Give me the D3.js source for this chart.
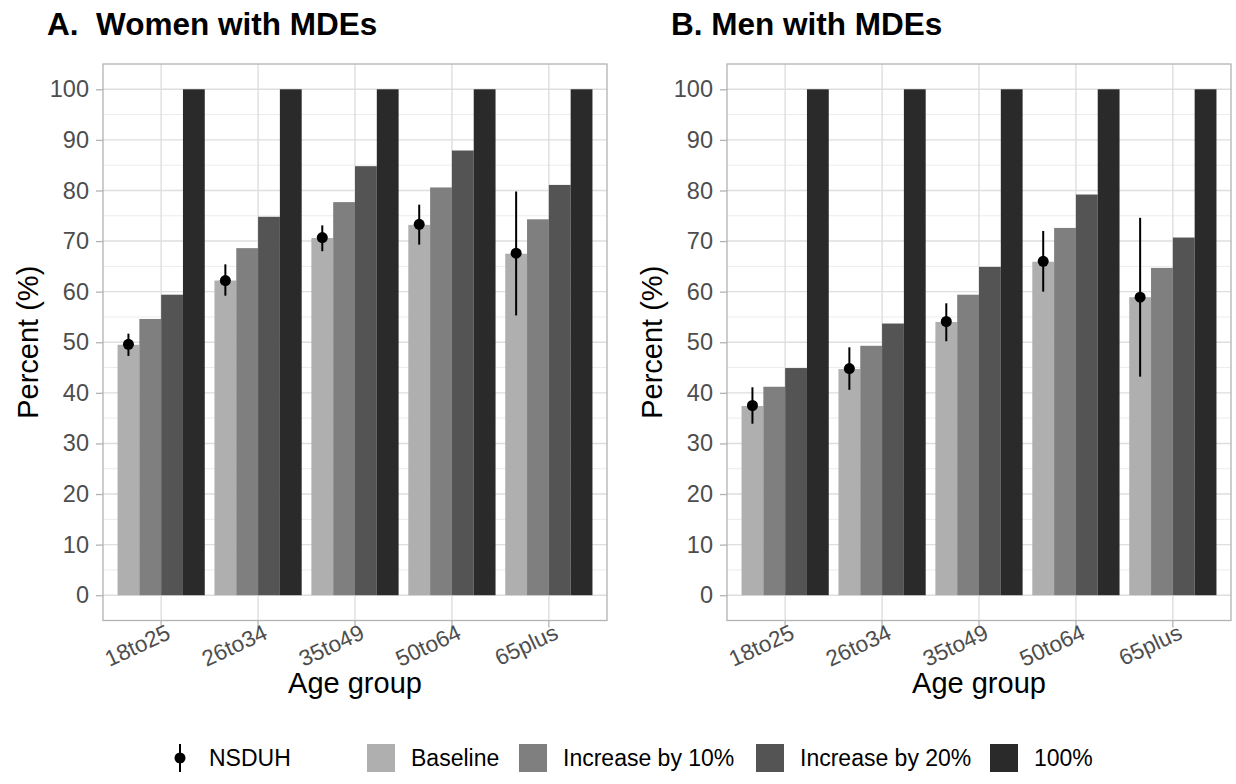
<!DOCTYPE html>
<html>
<head>
<meta charset="utf-8">
<script src="https://cdn.jsdelivr.net/npm/d3@7"></script>
<style>
  html, body { margin: 0; padding: 0; background: #ffffff; }
  svg { display: block; font-family: "Liberation Sans", Arial, Helvetica, sans-serif; }
</style>
</head>
<body>
<svg id="chart" width="1236" height="784"></svg>
<script>
// ---------------- DATA ----------------
const categories = ["18to25", "26to34", "35to49", "50to64", "65plus"];
const seriesNames = ["Baseline", "Increase by 10%", "Increase by 20%", "100%"];
const yTicks = [0, 10, 20, 30, 40, 50, 60, 70, 80, 90, 100];

// Women with MDEs
const womenBaseline = [49.5, 62.2, 70.6, 73.2, 67.5];
const womenInc10    = [54.6, 68.6, 77.7, 80.6, 74.3];
const womenInc20    = [59.4, 74.8, 84.8, 87.9, 81.1];
const women100      = [100, 100, 100, 100, 100];
const womenNsduh    = [49.6, 62.2, 70.7, 73.3, 67.6];
const womenNsduhLo  = [47.3, 59.2, 68.0, 69.3, 55.3];
const womenNsduhHi  = [51.7, 65.4, 73.1, 77.2, 79.8];

// Men with MDEs
const menBaseline = [37.4, 44.7, 54.0, 65.9, 58.9];
const menInc10    = [41.2, 49.3, 59.4, 72.6, 64.7];
const menInc20    = [44.9, 53.7, 64.9, 79.2, 70.7];
const men100      = [100, 100, 100, 100, 100];
const menNsduh    = [37.5, 44.8, 54.1, 66.0, 58.9];
const menNsduhLo  = [33.9, 40.6, 50.2, 60.0, 43.2];
const menNsduhHi  = [41.1, 49.0, 57.7, 72.0, 74.6];

const panelTitles = ["A.  Women with MDEs", "B. Men with MDEs"];
const fillColors = ["#afafaf", "#7f7f7f", "#545454", "#2a2a2a"];

// ---------------- LAYOUT ----------------
const svg = d3.select("#chart");
svg.append("rect").attr("width", 1236).attr("height", 784).attr("fill", "#ffffff");

const panelTop = 64, panelBottom = 620.5;
const panels = [
  { left: 103, right: 607, title: panelTitles[0],
    series: [womenBaseline, womenInc10, womenInc20, women100],
    nsduh: womenNsduh, lo: womenNsduhLo, hi: womenNsduhHi },
  { left: 727, right: 1231, title: panelTitles[1],
    series: [menBaseline, menInc10, menInc20, men100],
    nsduh: menNsduh, lo: menNsduhLo, hi: menNsduhHi }
];

const y = d3.scaleLinear().domain([-5, 105]).range([panelBottom, panelTop]);
const minorTicks = d3.range(5, 100, 10);
const fontFam = "'Liberation Sans', Arial, sans-serif";

panels.forEach(p => {
  const g = svg.append("g");
  const x = d3.scaleBand().domain(categories).range([p.left, p.right])
    .paddingInner(0).paddingOuter(0.1);
  const step = x.step();
  const cx = c => x(c) + x.bandwidth() / 2;
  const xs = d3.scaleBand().domain(seriesNames).range([-0.45 * step, 0.45 * step]).padding(0);

  // minor grid
  g.selectAll(".minor").data(minorTicks).join("line")
    .attr("x1", p.left).attr("x2", p.right)
    .attr("y1", d => y(d)).attr("y2", d => y(d))
    .attr("stroke", "#ececec").attr("stroke-width", 1);
  // major grid
  g.selectAll(".majory").data(yTicks).join("line")
    .attr("x1", p.left).attr("x2", p.right)
    .attr("y1", d => y(d)).attr("y2", d => y(d))
    .attr("stroke", "#dedede").attr("stroke-width", 1.4);
  g.selectAll(".majorx").data(categories).join("line")
    .attr("x1", d => cx(d)).attr("x2", d => cx(d))
    .attr("y1", panelTop).attr("y2", panelBottom)
    .attr("stroke", "#dedede").attr("stroke-width", 1.4);

  // bars
  seriesNames.forEach((s, si) => {
    g.selectAll(".bar" + si).data(categories).join("rect")
      .attr("x", d => cx(d) + xs(s))
      .attr("width", xs.bandwidth())
      .attr("y", (d, i) => y(p.series[si][i]))
      .attr("height", (d, i) => y(0) - y(p.series[si][i]))
      .attr("fill", fillColors[si]);
  });

  // NSDUH point ranges (at baseline bar position)
  const px = d => cx(d) + xs(seriesNames[0]) + xs.bandwidth() / 2;
  g.selectAll(".err").data(categories).join("line")
    .attr("x1", d => px(d)).attr("x2", d => px(d))
    .attr("y1", (d, i) => y(p.lo[i])).attr("y2", (d, i) => y(p.hi[i]))
    .attr("stroke", "#000").attr("stroke-width", 2);
  g.selectAll(".pt").data(categories).join("circle")
    .attr("cx", d => px(d)).attr("cy", (d, i) => y(p.nsduh[i]))
    .attr("r", 5.5).attr("fill", "#000");

  // panel border
  g.append("rect").attr("x", p.left).attr("y", panelTop)
    .attr("width", p.right - p.left).attr("height", panelBottom - panelTop)
    .attr("fill", "none").attr("stroke", "#b3b3b3").attr("stroke-width", 1.3);

  // y axis
  const yAxis = d3.axisLeft(y).tickValues(yTicks).tickSize(7).tickPadding(7);
  const ya = g.append("g").attr("transform", `translate(${p.left},0)`).call(yAxis);
  ya.select(".domain").remove();
  ya.selectAll(".tick line").attr("stroke", "#b3b3b3").attr("stroke-width", 1.3);
  ya.selectAll(".tick text").attr("fill", "#4d4d4d").style("font-size", "23.5px")
    .style("font-family", fontFam);

  // x axis
  const xAxis = d3.axisBottom(x).tickSize(7).tickPadding(0);
  const xa = g.append("g").attr("transform", `translate(0,${panelBottom})`).call(xAxis);
  xa.select(".domain").remove();
  xa.selectAll(".tick line").attr("stroke", "#b3b3b3").attr("stroke-width", 1.3);
  xa.selectAll(".tick text")
    .attr("fill", "#4d4d4d").style("font-size", "22.5px")
    .style("font-family", fontFam)
    .attr("text-anchor", "end")
    .attr("dy", null).attr("y", 0)
    .attr("transform", "translate(4,3) rotate(-25)")
    .attr("dominant-baseline", "hanging");

  // axis titles
  svg.append("text")
    .attr("x", (p.left + p.right) / 2).attr("y", 693)
    .attr("text-anchor", "middle").style("font-size", "29px").attr("fill", "#000")
    .text("Age group");
  svg.append("text")
    .attr("transform", `translate(${p.left - 65},${(panelTop + panelBottom) / 2}) rotate(-90)`)
    .attr("text-anchor", "middle").style("font-size", "29px").attr("fill", "#000")
    .text("Percent (%)");

  // panel title
  svg.append("text")
    .attr("x", p.left - 56).attr("y", 35)
    .style("font-size", "31.5px").style("font-weight", "bold").attr("fill", "#000")
    .attr("xml:space", "preserve")
    .style("white-space", "pre")
    .text(p.title);
});

// ---------------- LEGEND ----------------
const legY = 758;
const lg = svg.append("g");
// NSDUH key
lg.append("line").attr("x1", 180).attr("x2", 180).attr("y1", legY - 14).attr("y2", legY + 14)
  .attr("stroke", "#000").attr("stroke-width", 2);
lg.append("circle").attr("cx", 180).attr("cy", legY).attr("r", 5.5).attr("fill", "#000");
lg.append("text").attr("x", 209).attr("y", legY).attr("dominant-baseline", "central")
  .style("font-size", "23px").attr("fill", "#000").text("NSDUH");

const keyX = [367, 519, 756, 990];
seriesNames.forEach((s, i) => {
  lg.append("rect").attr("x", keyX[i]).attr("y", legY - 14).attr("width", 28).attr("height", 28)
    .attr("fill", fillColors[i]);
  lg.append("text").attr("x", keyX[i] + 44).attr("y", legY).attr("dominant-baseline", "central")
    .style("font-size", "23px").attr("fill", "#000").text(s);
});
</script>
</body>
</html>
